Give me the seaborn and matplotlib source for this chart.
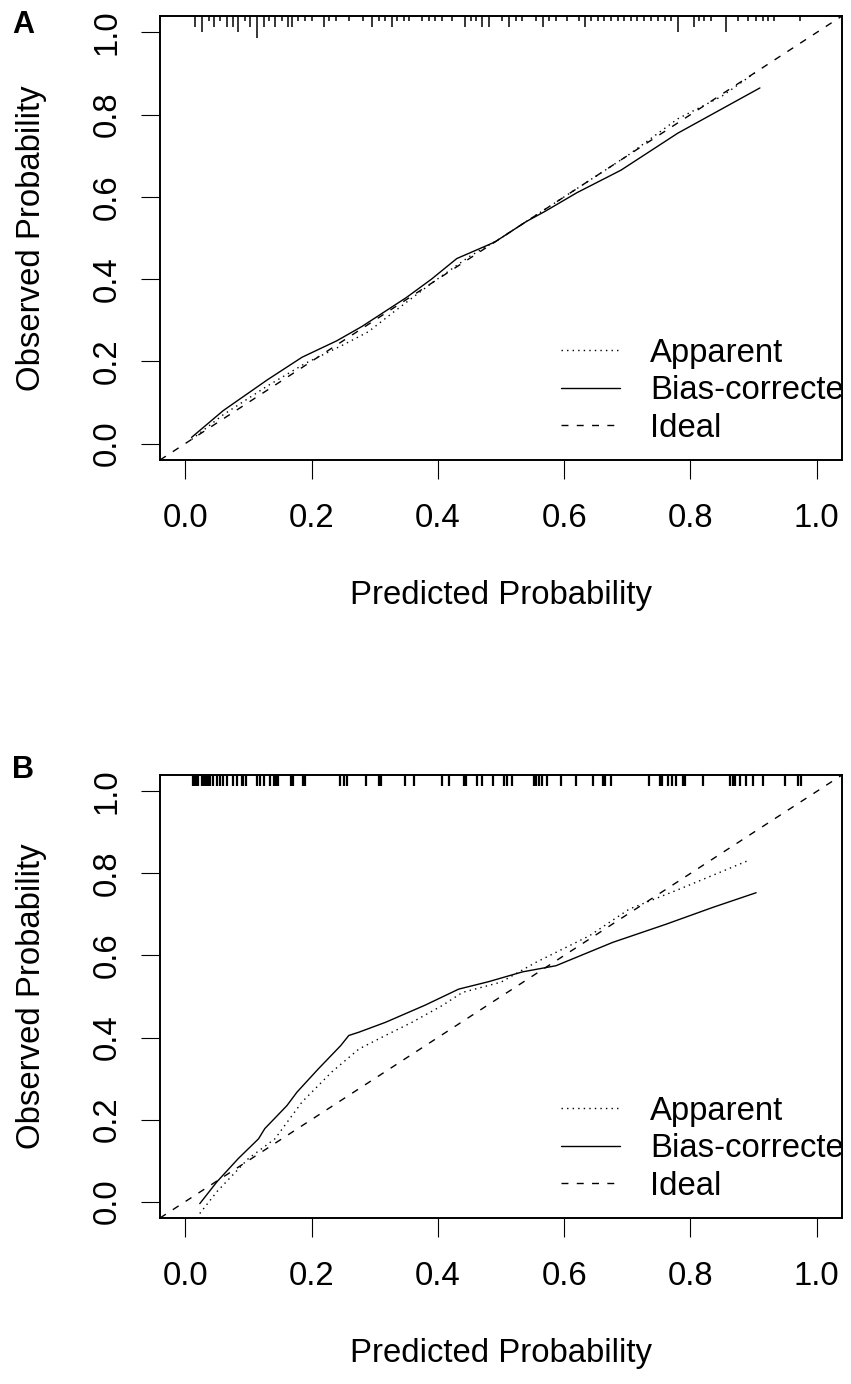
import matplotlib
matplotlib.use("Agg")
import matplotlib.pyplot as plt
import seaborn as sns

# ---- data ----
ticks = [0.0, 0.2, 0.4, 0.6, 0.8, 1.0]
tick_labels = ["0.0", "0.2", "0.4", "0.6", "0.8", "1.0"]
legend_labels = ["Apparent", "Bias-corrected", "Ideal"]

# panel A
a_app_x = [0.01, 0.06, 0.13, 0.19, 0.25, 0.29, 0.33, 0.39, 0.45, 0.50, 0.56, 0.62, 0.70, 0.78, 0.85, 0.905]
a_app_y = [0.01, 0.07, 0.14, 0.195, 0.24, 0.272, 0.32, 0.39, 0.455, 0.50, 0.56, 0.62, 0.70, 0.79, 0.845, 0.905]
a_bc_x = [0.01, 0.06, 0.13, 0.185, 0.24, 0.28, 0.30, 0.35, 0.39, 0.43, 0.49, 0.54, 0.57, 0.62, 0.69, 0.78, 0.91]
a_bc_y = [0.015, 0.08, 0.155, 0.21, 0.25, 0.285, 0.305, 0.355, 0.40, 0.45, 0.49, 0.54, 0.565, 0.61, 0.665, 0.755, 0.865]
a_rug_x = [0.015, 0.026, 0.037, 0.046, 0.055, 0.066, 0.075, 0.084, 0.094, 0.103,
           0.113, 0.124, 0.132, 0.142, 0.153, 0.162, 0.169, 0.179, 0.19, 0.2,
           0.219, 0.227, 0.238, 0.259, 0.281, 0.296, 0.307, 0.317, 0.327, 0.335,
           0.346, 0.354, 0.375, 0.386, 0.396, 0.407, 0.423, 0.443, 0.452, 0.46,
           0.47, 0.481, 0.502, 0.513, 0.523, 0.534, 0.555, 0.566, 0.576, 0.587,
           0.605, 0.624, 0.633, 0.642, 0.653, 0.663, 0.674, 0.685, 0.695, 0.706,
           0.716, 0.727, 0.738, 0.748, 0.759, 0.769, 0.781, 0.806, 0.814, 0.822,
           0.833, 0.856, 0.875, 0.891, 0.904, 0.915, 0.923, 0.933, 0.973]
a_rug_n = [2, 3, 1, 2, 1, 2, 2, 3, 1, 2,
           4, 2, 1, 2, 1, 2, 2, 1, 1, 1,
           2, 1, 1, 1, 1, 2, 1, 1, 2, 1,
           1, 1, 1, 1, 1, 1, 1, 2, 1, 1,
           2, 2, 1, 2, 1, 1, 1, 2, 1, 1,
           1, 1, 2, 1, 1, 1, 1, 1, 1, 1,
           1, 1, 1, 1, 1, 1, 3, 2, 1, 1,
           1, 3, 1, 1, 1, 1, 1, 1, 1]

# panel B
b_app_x = [0.023, 0.05, 0.10, 0.142, 0.185, 0.232, 0.275, 0.317, 0.359, 0.407, 0.439, 0.50, 0.555, 0.64, 0.703, 0.783, 0.894]
b_app_y = [-0.029, 0.024, 0.105, 0.153, 0.243, 0.316, 0.372, 0.405, 0.437, 0.478, 0.51, 0.535, 0.583, 0.648, 0.713, 0.762, 0.833]
b_bc_x = [0.023, 0.05, 0.084, 0.116, 0.126, 0.161, 0.177, 0.211, 0.246, 0.259, 0.275,
          0.317, 0.38, 0.433, 0.48, 0.534, 0.587, 0.677, 0.761, 0.835, 0.904]
b_bc_y = [-0.005, 0.048, 0.105, 0.153, 0.178, 0.234, 0.267, 0.324, 0.38, 0.405, 0.413,
          0.437, 0.479, 0.518, 0.536, 0.56, 0.575, 0.632, 0.676, 0.717, 0.753]
b_rug_x = [0.0127, 0.0153, 0.018, 0.0206, 0.0259, 0.0286, 0.0312, 0.0339, 0.0365, 0.0392,
           0.0444, 0.0497, 0.055, 0.0603, 0.0656, 0.0762, 0.0815, 0.0894, 0.0921, 0.0958,
           0.1143, 0.1185, 0.1254, 0.1344, 0.1407, 0.1439, 0.1476, 0.1672, 0.1709, 0.1857,
           0.1894, 0.2455, 0.2508, 0.2561, 0.2862, 0.3074, 0.31, 0.3487, 0.362, 0.4069,
           0.4175, 0.4413, 0.4439, 0.4624, 0.4704, 0.4878, 0.5048, 0.51, 0.518, 0.5524,
           0.555, 0.5603, 0.5656, 0.5735, 0.5947, 0.6185, 0.645, 0.6608, 0.664, 0.6741,
           0.7349, 0.7519, 0.755, 0.764, 0.7709, 0.7772, 0.7878, 0.791, 0.8196, 0.8619,
           0.8672, 0.8709, 0.8778, 0.8884, 0.899, 0.9148, 0.9492, 0.9704, 0.9757]

# ---- style ----
sns.set_style("ticks", rc={"axes.edgecolor": "black", "text.color": "black",
                           "xtick.color": "black", "ytick.color": "black",
                           "axes.labelcolor": "black"})
plt.rcParams["font.family"] = ["Liberation Sans", "DejaVu Sans"]

FS = 23.7
LIM = (-0.04, 1.04)
DOT = (0, (1, 3))
DASH = (0, (5, 6))


def draw_panel(ax, app_x, app_y, bc_x, bc_y, rug_x, rug_len, rug_lw):
    sns.lineplot(x=app_x, y=app_y, ax=ax, color="black", lw=1.0, linestyle=DOT,
                 estimator=None, sort=False, label=legend_labels[0])
    sns.lineplot(x=bc_x, y=bc_y, ax=ax, color="black", lw=1.0, linestyle="-",
                 estimator=None, sort=False, label=legend_labels[1])
    ax.axline((0, 0), slope=1, color="black", lw=1.0, linestyle=DASH, label=legend_labels[2])
    # rug of predicted probabilities along the top edge
    ax.vlines(rug_x, [LIM[1] - h for h in rug_len], LIM[1], color="black", lw=rug_lw)

    ax.set_xlim(LIM)
    ax.set_ylim(LIM)
    ax.set_xticks(ticks)
    ax.set_xticklabels(tick_labels)
    ax.set_yticks(ticks)
    ax.set_yticklabels(tick_labels, rotation=90, va="center")
    ax.tick_params(axis="both", direction="out", length=13.7, width=0.8, labelsize=FS)
    ax.tick_params(axis="x", pad=17)
    ax.tick_params(axis="y", pad=13)
    for s in ax.spines.values():
        s.set_linewidth(1.4)

    ax.set_xlabel("Predicted Probability", fontsize=FS)
    ax.set_ylabel("Observed Probability", fontsize=FS)
    ax.xaxis.set_label_coords(0.5, -0.27)
    ax.yaxis.set_label_coords(-0.166, 0.5)

    # legend text is clipped by the plot box, like the original
    h, l = ax.get_legend_handles_labels()
    leg = ax.legend(h, l, loc="lower left", bbox_to_anchor=(0.595, -0.001),
                    bbox_transform=ax.transData, frameon=False, fontsize=FS,
                    handlelength=1.8, handletextpad=0.9, labelspacing=0.2,
                    borderpad=0, borderaxespad=0)
    for t in leg.get_texts():
        t.set_clip_on(True)
        t.set_clip_box(ax.bbox)


fig = plt.figure(figsize=(8.51, 13.84), dpi=100)
ax_a = fig.add_axes([0.18801, 0.66763, 0.80141, 0.32081])
ax_b = fig.add_axes([0.18801, 0.11994, 0.80141, 0.32009])

draw_panel(ax_a, a_app_x, a_app_y, a_bc_x, a_bc_y, a_rug_x,
           [n * 0.0131 for n in a_rug_n], 1.1)
draw_panel(ax_b, b_app_x, b_app_y, b_bc_x, b_bc_y, b_rug_x,
           [0.026] * len(b_rug_x), 1.6)

fig.text(23 / 851, 1 - 25 / 1384, "A", fontsize=22, fontweight="bold", ha="center", va="center")
fig.text(23 / 851, 1 - 770 / 1384, "B", fontsize=22, fontweight="bold", ha="center", va="center")

fig.savefig("out.png", dpi=100)
